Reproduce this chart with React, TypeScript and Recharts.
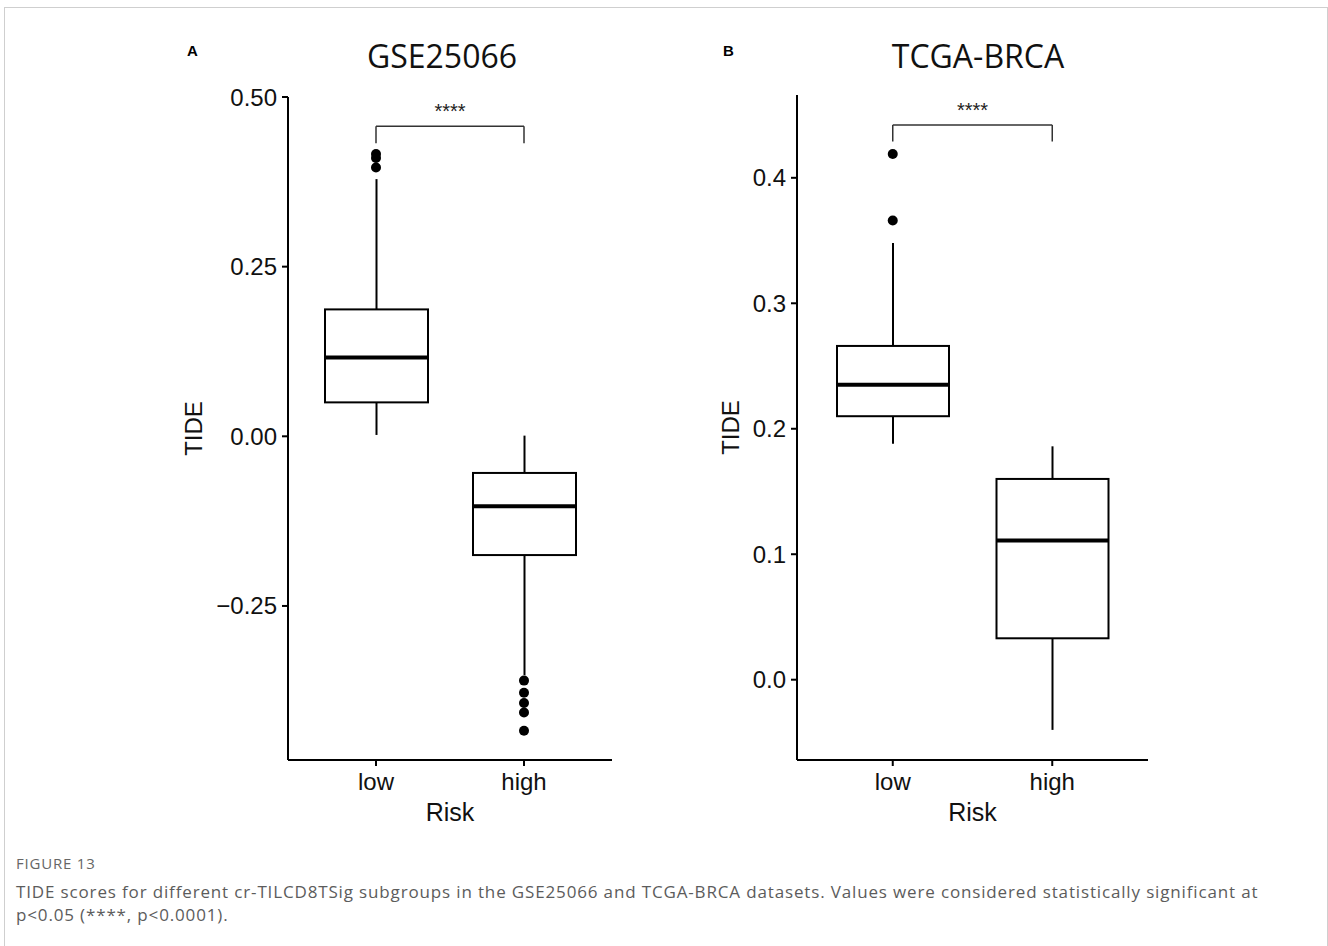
import React from 'react'
import { ComposedChart, Bar, Scatter, XAxis, YAxis, ReferenceLine, Label } from 'recharts'

const riskGroups = ['low', 'high']

// GSE25066 (panel A)
const gseWhiskerMin = [0.002, -0.352]
const gseQ1 = [0.05, -0.175]
const gseMedian = [0.116, -0.103]
const gseQ3 = [0.187, -0.054]
const gseWhiskerMax = [0.379, 0.001]
const gseOutliersLow = [0.416, 0.41, 0.396]
const gseOutliersHigh = [-0.36, -0.378, -0.393, -0.407, -0.434]
const gseTicks = [-0.25, 0, 0.25, 0.5]
const gseDomain = [-0.477, 0.5]
const gseBracket = [0.457, 0.432]

// TCGA-BRCA (panel B)
const tcgaWhiskerMin = [0.188, -0.04]
const tcgaQ1 = [0.21, 0.033]
const tcgaMedian = [0.235, 0.111]
const tcgaQ3 = [0.266, 0.16]
const tcgaWhiskerMax = [0.348, 0.186]
const tcgaOutliersLow = [0.419, 0.366]
const tcgaOutliersHigh: number[] = []
const tcgaTicks = [0, 0.1, 0.2, 0.3, 0.4]
const tcgaDomain = [-0.064, 0.466]
const tcgaBracket = [0.442, 0.429]

const FONT = '"Liberation Sans", Arial, sans-serif'
const CAPTION_FONT = '"Open Sans", sans-serif'

function buildRows(wmin: number[], q1: number[], med: number[], q3: number[], wmax: number[]) {
  return riskGroups.map((risk, i) => ({
    risk,
    whisker: [wmin[i], wmax[i]],
    q1: q1[i],
    median: med[i],
    q3: q3[i],
  }))
}

function buildOutliers(low: number[], high: number[]) {
  return [
    ...low.map((value) => ({ risk: 'low', value })),
    ...high.map((value) => ({ risk: 'high', value })),
  ]
}

// whole box + whiskers drawn from the bar's whisker range
function BoxShape(props: any) {
  const { x, y, width, height, payload } = props
  if (!payload) return null
  const [lo, hi] = payload.whisker
  const top = Math.min(y, y + height)
  const span = Math.abs(height)
  const toY = (v: number) => top + (span * (hi - v)) / (hi - lo)
  const cx = x + width / 2
  const yq1 = toY(payload.q1)
  const yq3 = toY(payload.q3)
  const ymed = toY(payload.median)
  return (
    <g>
      <line x1={cx} x2={cx} y1={top} y2={yq3} stroke="#000" strokeWidth={2} />
      <line x1={cx} x2={cx} y1={yq1} y2={top + span} stroke="#000" strokeWidth={2} />
      <rect x={x} y={yq3} width={width} height={yq1 - yq3} fill="#fff" stroke="#000" strokeWidth={2} />
      <line x1={x} x2={x + width} y1={ymed} y2={ymed} stroke="#000" strokeWidth={4} />
    </g>
  )
}

interface PanelProps {
  left: number
  rows: ReturnType<typeof buildRows>
  outliers: { risk: string; value: number }[]
  ticks: number[]
  domain: number[]
  bracket: number[]
  digits: number
  yAxisWidth: number
  marginTop: number
  marginRight: number
  xPadding: number
  boxWidth: number
  tideX: number
}

function Panel(p: PanelProps) {
  const fmt = (v: number) => (v < 0 ? '\u2212' + Math.abs(v).toFixed(p.digits) : v.toFixed(p.digits))
  return (
    <div style={{ position: 'absolute', left: p.left, top: 80 }}>
      <ComposedChart
        width={470}
        height={750}
        data={p.rows}
        margin={{ top: p.marginTop, right: p.marginRight, bottom: 0, left: 0 }}
      >
        <XAxis
          dataKey="risk"
          type="category"
          allowDuplicatedCategory={false}
          padding={{ left: p.xPadding, right: p.xPadding }}
          height={70}
          tick={{ fontSize: 24, fill: '#111', fontFamily: FONT }}
          tickSize={6}
          tickMargin={7}
          axisLine={{ stroke: '#000', strokeWidth: 2 }}
          tickLine={{ stroke: '#000', strokeWidth: 2 }}
        >
          <Label value="Risk" position="insideBottom" offset={9} fontSize={25} fill="#111" fontFamily={FONT} />
        </XAxis>
        <YAxis
          type="number"
          domain={p.domain}
          ticks={p.ticks}
          allowDataOverflow
          width={p.yAxisWidth}
          tickFormatter={fmt}
          tick={{ fontSize: 24, fill: '#111', fontFamily: FONT }}
          tickSize={6}
          tickMargin={5}
          axisLine={{ stroke: '#000', strokeWidth: 2 }}
          tickLine={{ stroke: '#000', strokeWidth: 2 }}
        >
          <Label
            content={(lp: any) => {
              const vb = lp.viewBox || {}
              const cx = vb.x + p.tideX
              const cy = vb.y + vb.height / 2
              return (
                <text
                  x={cx}
                  y={cy}
                  transform={`rotate(-90, ${cx}, ${cy})`}
                  textAnchor="middle"
                  dominantBaseline="central"
                  fontSize={24}
                  fill="#111"
                  fontFamily={FONT}
                >
                  TIDE
                </text>
              )
            }}
          />
        </YAxis>
        <Bar dataKey="whisker" barSize={p.boxWidth} shape={<BoxShape />} isAnimationActive={false} />
        <Scatter
          data={p.outliers}
          dataKey="value"
          isAnimationActive={false}
          shape={(s: any) => <circle cx={s.cx} cy={s.cy} r={5} fill="#000" />}
        />
        <ReferenceLine
          segment={[
            { x: 'low', y: p.bracket[0] },
            { x: 'high', y: p.bracket[0] },
          ]}
          stroke="#333"
          strokeWidth={1.5}
          ifOverflow="visible"
          label={{ value: '****', position: 'top', offset: 8, fontSize: 20, fill: '#222', fontFamily: FONT }}
        />
        <ReferenceLine
          segment={[
            { x: 'low', y: p.bracket[0] },
            { x: 'low', y: p.bracket[1] },
          ]}
          stroke="#333"
          strokeWidth={1.5}
          ifOverflow="visible"
        />
        <ReferenceLine
          segment={[
            { x: 'high', y: p.bracket[0] },
            { x: 'high', y: p.bracket[1] },
          ]}
          stroke="#333"
          strokeWidth={1.5}
          ifOverflow="visible"
        />
      </ComposedChart>
    </div>
  )
}

export default function App() {
  return (
    <div
      style={{
        position: 'absolute',
        left: 0,
        top: 0,
        width: 1328,
        height: 946,
        overflow: 'hidden',
        background: '#fff',
      }}
    >
      <div
        style={{
          position: 'absolute',
          left: 4,
          top: 7,
          width: 1322,
          height: 1000,
          border: '1px solid #cfcfcf',
        }}
      />
      <Panel
        left={170}
        rows={buildRows(gseWhiskerMin, gseQ1, gseMedian, gseQ3, gseWhiskerMax)}
        outliers={buildOutliers(gseOutliersLow, gseOutliersHigh)}
        ticks={gseTicks}
        domain={gseDomain}
        bracket={gseBracket}
        digits={2}
        yAxisWidth={118}
        marginTop={17}
        marginRight={28}
        xPadding={14}
        boxWidth={103}
        tideX={23}
      />
      <Panel
        left={700}
        rows={buildRows(tcgaWhiskerMin, tcgaQ1, tcgaMedian, tcgaQ3, tcgaWhiskerMax)}
        outliers={buildOutliers(tcgaOutliersLow, tcgaOutliersHigh)}
        ticks={tcgaTicks}
        domain={tcgaDomain}
        bracket={tcgaBracket}
        digits={1}
        yAxisWidth={97}
        marginTop={15}
        marginRight={22}
        xPadding={16}
        boxWidth={112}
        tideX={30}
      />
      <svg width={1328} height={946} style={{ position: 'absolute', left: 0, top: 0, pointerEvents: 'none' }}>
        <text x={187} y={56} fontSize={15} fontWeight={700} fontFamily={FONT} fill="#000">A</text>
        <text x={442} y={68} fontSize={32} textAnchor="middle" fontFamily={CAPTION_FONT} fill="#111">
          GSE25066
        </text>
        <text x={723} y={56} fontSize={15} fontWeight={700} fontFamily={FONT} fill="#000">B</text>
        <text x={978} y={68} fontSize={32} textAnchor="middle" fontFamily={CAPTION_FONT} fill="#111">
          TCGA-BRCA
        </text>
        <text x={16} y={869} fontSize={15} letterSpacing={0.8} fontFamily={CAPTION_FONT} fill="#666">
          FIGURE 13
        </text>
        <text x={16} y={898} fontSize={17} letterSpacing={0.85} fontFamily={CAPTION_FONT} fill="#5c5c5c">
          TIDE scores for different cr-TILCD8TSig subgroups in the GSE25066 and TCGA-BRCA datasets. Values were considered statistically significant at
        </text>
        <text x={16} y={921} fontSize={17} letterSpacing={0.85} fontFamily={CAPTION_FONT} fill="#5c5c5c">
          p&lt;0.05 (****, p&lt;0.0001).
        </text>
      </svg>
    </div>
  )
}
